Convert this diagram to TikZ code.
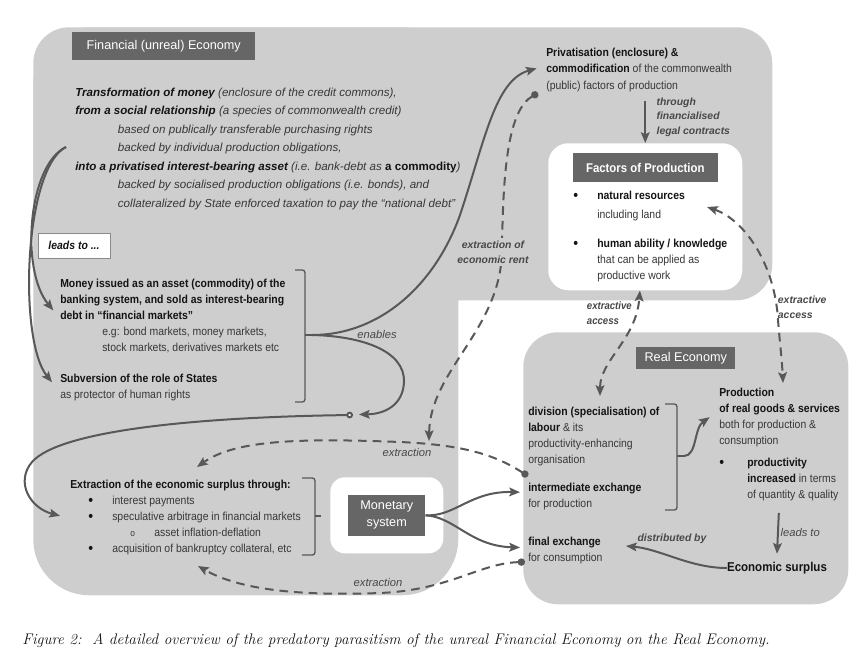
\documentclass[tikz,border=0pt]{standalone}
\usepackage{fontspec}
\setsansfont{Liberation Sans}
\newfontfamily\narrowsf[FakeStretch=0.9]{Liberation Sans}
\usetikzlibrary{positioning,arrows.meta}

\definecolor{fingray}{RGB}{206,206,206}
\definecolor{boxgray}{RGB}{102,102,102}
\definecolor{linegray}{RGB}{88,88,88}
\definecolor{inkgray}{RGB}{55,55,55}
\definecolor{inkdark}{RGB}{20,20,20}
\definecolor{labelgray}{RGB}{72,72,72}

\newcommand{\keyterm}[1]{{\bfseries\color{inkdark}#1}}
\newcommand{\blt}{\raisebox{-0.7pt}{\color{inkdark}\fontsize{11.5}{11.5}\selectfont•}}

\tikzset{
  head/.tip={Stealth[length=8pt,width=6.5pt,inset=1.5pt]},
  blob/.tip={Circle[length=5.5pt]},
  region/.style={rounded corners=#1, inner sep=0pt, anchor=north west},
  titlebox/.style={fill=boxgray, text=white, inner sep=0pt, align=center,
    font=\sffamily\fontsize{9.5}{12.5}\selectfont},
  body/.style={anchor=north west, inner sep=0pt, align=left, text=inkgray,
    font=\narrowsf\fontsize{8.7}{12}\selectfont},
  flow/.style={draw=linegray, line width=1.5pt, -{head}},
  leak/.style={flow, dash pattern=on 6.5pt off 4.5pt},
  brkt/.style={draw=linegray, line width=1pt, rounded corners=2pt},
  lbl/.style={text=labelgray, inner sep=1pt, font=\sffamily\itshape\fontsize{8.4}{10}\selectfont},
  blbl/.style={lbl, align=left, font=\sffamily\bfseries\itshape\fontsize{7.8}{11}\selectfont},
}

\begin{document}
\begin{tikzpicture}[x=0.75pt, y=-0.75pt]
\useasboundingbox (0,0) rectangle (860,668);

% the economies
\node[region=27pt, fill=fingray, minimum width=554.25pt, minimum height=204.75pt] (fintop) at (33,27) {};
\node[region=42pt, fill=fingray, minimum width=318.75pt, minimum height=426pt] (finleft) at (33,27) {};
\node[region=26pt, fill=fingray, minimum width=243.75pt, minimum height=204pt] (realbox) at (523,332) {};
\node[region=15pt, fill=white, minimum width=145.5pt, minimum height=110.25pt] (factbox) at (548,143) {};
\node[region=11pt, fill=white, minimum width=84.75pt, minimum height=57pt] (monbox) at (330,477) {};

% titles
\node[titlebox, anchor=north west, minimum width=137.25pt, minimum height=21pt] (fintitle) at (72,32) {Financial (unreal) Economy};
\node[titlebox, below=7.5pt of factbox.north, minimum width=108.75pt, minimum height=21.75pt,
  font=\narrowsf\bfseries\fontsize{9.5}{11}\selectfont] (facttitle) {Factors of Production};
\node[titlebox, below=11.25pt of realbox.north, minimum width=74.25pt, minimum height=16.5pt] (realtitle) {Real Economy};
\node[titlebox, minimum width=57.75pt, minimum height=30.75pt] (montitle) at (monbox.center) {Monetary\\system};

% financial economy
\node[body, font=\sffamily\itshape\fontsize{8.7}{13.9}\selectfont] (transform) at (75,87.5) {%
  \keyterm{Transformation of money} (enclosure of the credit commons),\\
  \keyterm{from a social relationship} (a species of commonwealth credit)\\
  \hspace*{32pt}based on publically transferable purchasing rights\\
  \hspace*{32pt}backed by individual production obligations,\\
  \keyterm{into a privatised interest-bearing asset} (i.e. bank-debt as \keyterm{\upshape a commodity})\\
  \hspace*{32pt}backed by socialised production obligations (i.e. bonds), and\\
  \hspace*{32pt}collateralized by State enforced taxation to pay the “national debt”};
\node[body] (money) at (60,278.5) {%
  \keyterm{Money issued as an asset (commodity) of the}\\
  \keyterm{banking system, and sold as interest-bearing}\\
  \keyterm{debt in “financial markets”}\\
  \hspace*{31.5pt}e.g: bond markets, money markets,\\
  \hspace*{31.5pt}stock markets, derivatives markets etc};
\node[body] (subvert) at (60,373.5) {\keyterm{Subversion of the role of States}\\[0.6pt] as protector of human rights};
\node[body] (extract) at (70,479.5) {%
  \keyterm{Extraction of the economic surplus through:}\\
  \hspace*{13.5pt}\makebox[18pt][l]{\blt}interest payments\\
  \hspace*{13.5pt}\makebox[18pt][l]{\blt}speculative arbitrage in financial markets\\
  \hspace*{45pt}\makebox[18pt][l]{\scriptsize o}asset inflation-deflation\\
  \hspace*{13.5pt}\makebox[18pt][l]{\blt}acquisition of bankruptcy collateral, etc};
\node[body, font=\narrowsf\fontsize{8.7}{12.4}\selectfont] (privat) at (546,47.5) {%
  \keyterm{Privatisation (enclosure) \&}\\
  \keyterm{commodification} of the commonwealth\\
  (public) factors of production};

% factors of production
\node[body] (natres) at (573,190.5) {\makebox[18pt][l]{\blt}\keyterm{natural resources}\\[2.3pt] \hspace*{18pt}including land};
\node[body] (human) at (573,238.5) {\makebox[18pt][l]{\blt}\keyterm{human ability / knowledge}\\
  \hspace*{18pt}that can be applied as\\ \hspace*{18pt}productive work};

% real economy
\node[body] (divis) at (528,406.5) {\keyterm{division (specialisation) of}\\ \keyterm{labour} \& its\\ productivity-enhancing\\ organisation};
\node[body] (interx) at (528,482.5) {\keyterm{intermediate exchange}\\ for production};
\node[body] (finalx) at (528,536.5) {\keyterm{final exchange}\\ for consumption};
\node[body] (produce) at (719,387.5) {\keyterm{Production}\\ \keyterm{of real goods \& services}\\ both for production \&\\ consumption};
\node[body] (prodvty) at (719,457.5) {\makebox[21pt][l]{\blt}\keyterm{productivity}\\
  \hspace*{21pt}\keyterm{increased} in terms\\ \hspace*{21pt}of quantity \& quality};
\node[inner sep=0pt, text=inkdark, font=\narrowsf\bfseries\fontsize{9.6}{11}\selectfont] (surplus) at (777,568) {Economic surplus};

% brackets
\coordinate (enabtip) at (312,335);
\coordinate (extrtip) at (321,516);
\coordinate (divtip) at (684,456);
\draw[brkt] (295,270) -- (305,270) -- (305,402) -- (295,402);
\draw[brkt] (305,335) -- (enabtip);
\draw[brkt] (302,478) -- (315,478) -- (315,555) -- (302,555);
\draw[brkt] (315,516) -- (extrtip);
\draw[brkt] (665,404) -- (677,404) -- (677,510) -- (665,510);
\draw[brkt] (677,456) -- (divtip);

% loose ends
\coordinate (leadsrc) at (66,147);
\coordinate (loopc) at (353,415);
\coordinate (rentsrc) at (538,93);
\coordinate (rentend) at (429,441);
\coordinate (intdot) at (528,476);
\coordinate (findot) at (525,562);
\coordinate (extrin1) at (197,467);
\coordinate (extrin2) at (198,566);
\coordinate (distend) at (626,546);
\coordinate (natin) at (707,207);
\coordinate (prodin) at (783,383);
\coordinate (divin) at (600,396);

% solid flows
\draw[flow] (leadsrc) .. controls (28,165) and (20,270) .. ([xshift=-5pt, yshift=4pt]money.west);
\draw[flow] (leadsrc) .. controls (24,168) and (18,340) .. ([xshift=-6pt, yshift=4pt]subvert.west);
\draw[flow] (enabtip) .. controls (380,335) and (435,285) .. (460,215)
  .. controls (485,140) and (495,80) .. ([xshift=-7pt, yshift=1pt]privat.west);
\draw[flow] (enabtip) .. controls (360,336) and (405,350) .. (404,382)
  .. controls (403,405) and (385,414) .. (359,414.5);
\draw[flow, {Circle[open, fill=white, length=5pt]}-{head}] (loopc) .. controls (200,417) and (60,430) .. (32,462)
  .. controls (15,482) and (30,508) .. ([xshift=-7.5pt, yshift=1pt]extract.west);
\draw[flow] (montitle.east) .. controls (455,517) and (470,491) .. ([xshift=-6pt, yshift=3pt]interx.west);
\draw[flow] (montitle.east) .. controls (455,517) and (470,546) .. ([xshift=-6pt, yshift=2pt]finalx.west);
\draw[flow] ([yshift=-7pt]privat.south -| factbox.north) -- (factbox.north);
\draw[flow] (divtip) .. controls (697,456) and (694,428) .. ([xshift=-7pt]produce.west);
\draw[flow] ([yshift=-9pt]prodvty.south) -- ([yshift=6pt]surplus.north);
\draw[flow] (surplus.west) .. controls (690,568) and (660,549) .. (distend);

% dashed flows
\draw[leak, {blob}-{head}] (rentsrc) .. controls (508,110) and (503,170) .. (502,250)
  .. controls (501,330) and (430,370) .. (rentend);
\draw[leak, {blob}-{head}] (intdot) .. controls (495,455) and (465,445) .. (400,442)
  .. controls (300,438) and (235,440) .. (extrin1);
\draw[leak, {blob}-{head}] (findot) .. controls (480,563) and (450,590) .. (380,593)
  .. controls (300,596) and (240,590) .. (extrin2);
\draw[leak, {head}-{head}] (divin) .. controls (600,360) and (636,340) .. ([xshift=-4pt]factbox.south);
\draw[leak, {head}-{head}] (natin) .. controls (745,220) and (775,265) .. (778,320)
  .. controls (780,345) and (782,360) .. (prodin);

% labels
\node[draw=linegray!70, fill=white, line width=0.6pt, minimum width=54pt, minimum height=18.75pt, inner sep=0pt,
  text=inkdark, font=\narrowsf\bfseries\itshape\fontsize{8.7}{10}\selectfont] (leadsto) at (74,245.5) {leads to ...};
\node[lbl] (enablbl) at (377,334) {enables};
\node[blbl, align=center, fill=fingray, inner sep=2pt] (rentlbl) at (493,252) {extraction of\\economic rent};
\node[lbl] (extrlbl1) at (407,452) {extraction};
\node[lbl] (extrlbl2) at (378,582) {extraction};
\node[blbl, anchor=north west] (thrulbl) at (655,96) {through\\financialised\\legal contracts};
\node[blbl, anchor=north west, inner sep=0.5pt, font=\narrowsf\bfseries\itshape\fontsize{8}{11}\selectfont] (acclbl1) at (586,301) {extractive\\access};
\node[blbl, anchor=north west, inner sep=0.5pt] (acclbl2) at (777,295) {extractive\\access};
\node[lbl, anchor=west] (leadlbl) at (779,532) {leads to};
\node[blbl] (distlbl) at (672,539) {distributed by};

% caption
\node[anchor=west, inner sep=0pt, text=inkdark, font=\rmfamily\itshape\fontsize{11.5}{13}\selectfont] (caption) at (22,641)
  {Figure 2:\ \ A detailed overview of the predatory parasitism of the unreal Financial Economy on the Real Economy.};
\end{tikzpicture}
\end{document}
